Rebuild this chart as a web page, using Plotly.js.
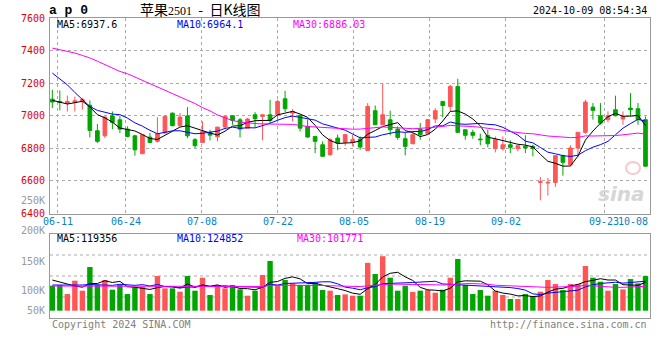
<!DOCTYPE html>
<html><head><meta charset="utf-8">
<script src="https://cdn.plot.ly/plotly-3.0.1.min.js"></script>
<style>html,body{margin:0;padding:0;background:#fff;} #chart{width:660px;height:360px;}</style>
</head><body><div id="chart"></div>
<script>
// ---- data ----
const dates = ['2024-06-07','2024-06-11','2024-06-12','2024-06-13','2024-06-14','2024-06-17','2024-06-18','2024-06-19','2024-06-20','2024-06-21',
'2024-06-24','2024-06-25','2024-06-26','2024-06-27','2024-06-28','2024-07-01','2024-07-02','2024-07-03','2024-07-04','2024-07-05',
'2024-07-08','2024-07-09','2024-07-10','2024-07-11','2024-07-12','2024-07-15','2024-07-16','2024-07-17','2024-07-18','2024-07-19',
'2024-07-22','2024-07-23','2024-07-24','2024-07-25','2024-07-26','2024-07-29','2024-07-30','2024-07-31','2024-08-01','2024-08-02',
'2024-08-05','2024-08-06','2024-08-07','2024-08-08','2024-08-09','2024-08-12','2024-08-13','2024-08-14','2024-08-15','2024-08-16',
'2024-08-19','2024-08-20','2024-08-21','2024-08-22','2024-08-23','2024-08-26','2024-08-27','2024-08-28','2024-08-29','2024-08-30',
'2024-09-02','2024-09-03','2024-09-04','2024-09-05','2024-09-06','2024-09-09','2024-09-10','2024-09-11','2024-09-12','2024-09-13',
'2024-09-18','2024-09-19','2024-09-20','2024-09-23','2024-09-24','2024-09-25','2024-09-26','2024-09-27','2024-09-30','2024-10-08'];

const openP  = [7102,7088,7076,7082,7086,7065,6908,6877,6999,6975, 6918,6877,6767,6869,6843,6894,7016,6939,6999,6853,
                6836,6898,6871,6931,7000,6975,6924,7006,6996,7006, 7006,7104,7016,7002,6935,6873,6822,6761,6863,6837,
                6837,6857,6786,7031,6945,6975,6918,6859,6828,6918, 6890,6980,7088,7057,7180,6914,6898,6857,6878,6798,
                6798,6822,6798,6812,6812,6591,6587,6591,6755,6700, 6802,6898,7053,7000,6976,7037,6980,7047,7043,6976];
const highP  = [7159,7155,7124,7118,7108,7094,6949,6996,7026,6999, 6935,6883,6883,6894,6992,7000,7020,7016,7053,6863,
                6965,6914,6933,6996,7000,6986,6986,7022,7006,7098, 7098,7153,7041,7006,6976,6873,6843,6863,6884,6884,
                6884,6873,7078,7063,7200,7031,6935,6894,6894,6955, 6980,7047,7088,7190,7227,6914,6914,6890,6914,6873,
                6873,6849,6816,6880,6822,6624,6618,6755,6761,6820, 6898,7098,7078,7078,7027,7123,7027,7139,7078,6996];
const lowP   = [7047,7033,7026,7026,7037,6867,6832,6863,6918,6894, 6867,6755,6767,6832,6836,6894,6935,6935,6863,6802,
                6832,6849,6843,6924,6945,6867,6924,6929,6849,6955, 6975,7022,6965,6904,6865,6771,6747,6755,6788,6816,
                6812,6792,6786,6945,6945,6880,6853,6757,6828,6853, 6890,6955,6990,7027,6898,6853,6859,6818,6806,6775,
                6786,6771,6781,6771,6751,6481,6510,6563,6632,6690, 6747,6890,6976,6945,6959,6996,6945,6996,6945,6690];
const closeP = [7084,7082,7088,7092,7100,6910,6843,6992,6959,6918, 6873,6791,6883,6836,6890,6996,6939,6992,6877,6816,
                6904,6881,6930,6996,6971,6918,6980,6982,7006,6971, 7088,7043,7026,6924,6869,6843,6751,6853,6832,6884,
                6853,6808,7057,6945,7006,6914,6867,6812,6884,6884, 6976,7031,7063,7180,6898,6880,6880,6853,6828,6853,
                6822,6806,6816,6802,6798,6595,6591,6755,6714,6802, 6898,7084,7033,6955,7000,7000,6996,7037,6976,6690];
const volume = [105800,108600,70500,126900,84600,184700,108600,129700,88800,108600,
                70500,98700,101500,70500,146600,94500,94500,80400,146600,84600,
                139600,66300,108600,94500,108600,90200,63500,84600,150900,210100,
                108600,129700,115600,108600,108600,118400,87400,84600,66300,69100,
                63500,63500,202400,155100,230500,139600,84600,105800,79000,84600,
                87400,76100,88800,139600,218600,108600,70500,87400,63500,84600,
                66300,49400,49400,70500,62000,80400,129700,112800,87400,112800,
                112800,188900,139600,122700,84600,112800,90200,133900,115600,146600];

// moving-average values before enough days are on screen
const ma5Head  = [7095,7085,7072,7080];
const ma10Head = [7262,7225,7190,7143,7098,7057,7033,7020,7010];
const ma30Head = [7415,7405,7395,7385,7370,7355,7335,7315,7290,7272,7258,7238,7220,7200,7180,7160,7138,7115,7098,7075,7050,7030,7005,6985,6970,6962,6955,6952,6950];
const vma5Head  = [129700,119900,112800,104300];
const vma10Head = [108600,108600,107000,107000,108600,111000,110000,108600,107000];
const vma30Head = [104300,104300,104300,104300,104300,104300,104300,104300,104300,104300,104300,104300,104300,104300,104300,
                   104300,104300,104300,104300,104300,104300,103500,103500,103500,103500,103000,102500,102500,102500];

const tickDates  = ['2024-06-11','2024-06-24','2024-07-08','2024-07-22','2024-08-05','2024-08-19','2024-09-02','2024-09-23','2024-10-08'];
const tickLabels = ['06-11','06-24','07-08','07-22','08-05','08-19','09-02','09-23','10-08'];
const priceTicks = [6400,6600,6800,7000,7200,7400,7600];
const volTickLabels = ['250K','200K','150K','100K','50K'];
const priceLegend = ['MA5:6937.6','MA10:6964.1','MA30:6886.03'];
const volLegend   = ['MA5:119356','MA10:124852','MA30:101771'];
const symbolText = 'a\u00a0p\u00a00';
const titleText = '苹果<span style="font-family:Liberation Serif;font-size:12px">2501</span>\u00a0\u00a0-\u00a0\u00a0日K线图';
const stampText = '2024-10-09 08:54:34';
const copyText = 'Copyright 2024 SINA.COM';
const urlText = 'http://finance.sina.com.cn';

// ---- helpers ----
function movingAvg(values, n, head){
  return values.map((v,i)=> i < n-1 ? head[i] : values.slice(i-n+1,i+1).reduce((a,b)=>a+b,0)/n);
}
const RED='#ff5555', GREEN='#00a600', MONO='DejaVu Sans Mono';
const maColors=['#000000','#0000ff','#ff00ff'];
const W=600, H=300, L=50, T=18;
const px = x => (x-L)/W;            // page pixel -> paper x
const py = y => (T+H-y)/H;          // page pixel -> paper y

const volColors = closeP.map((c,i)=> c>=openP[i] ? RED : GREEN);

const traces = [
  {type:'candlestick', x:dates, open:openP, high:highP, low:lowP, close:closeP, xaxis:'x', yaxis:'y',
   increasing:{line:{color:RED,width:1}, fillcolor:RED}, decreasing:{line:{color:GREEN,width:1}, fillcolor:GREEN},
   whiskerwidth:0, hoverinfo:'skip', showlegend:false},
  {type:'scatter', mode:'lines', x:dates, y:movingAvg(closeP,5,ma5Head), xaxis:'x', yaxis:'y', line:{color:maColors[0],width:1}, hoverinfo:'skip'},
  {type:'scatter', mode:'lines', x:dates, y:movingAvg(closeP,10,ma10Head), xaxis:'x', yaxis:'y', line:{color:maColors[1],width:1}, hoverinfo:'skip'},
  {type:'scatter', mode:'lines', x:dates, y:movingAvg(closeP,30,ma30Head), xaxis:'x', yaxis:'y', line:{color:maColors[2],width:1}, hoverinfo:'skip'},
  {type:'bar', x:dates, y:volume, xaxis:'x3', yaxis:'y3', marker:{color:volColors, line:{width:0}}, hoverinfo:'skip'},
  {type:'scatter', mode:'lines', x:dates, y:movingAvg(volume,5,vma5Head), xaxis:'x3', yaxis:'y3', line:{color:maColors[0],width:1}, hoverinfo:'skip'},
  {type:'scatter', mode:'lines', x:dates, y:movingAvg(volume,10,vma10Head), xaxis:'x3', yaxis:'y3', line:{color:maColors[1],width:1}, hoverinfo:'skip'},
  {type:'scatter', mode:'lines', x:dates, y:movingAvg(volume,30,vma30Head), xaxis:'x3', yaxis:'y3', line:{color:maColors[2],width:1}, hoverinfo:'skip'}
];

const tickIdx = tickDates.map(d=>dates.indexOf(d));
const candleRange = [-0.31, 79.6];
const gridRange = [0, dates.length-1];
const frame = {showline:true, mirror:true, linecolor:'#999', linewidth:1, zeroline:false, fixedrange:true};

const ann = [];
const txt = (text,x,y,xa,color,size,family,extra) => ann.push(Object.assign({text, x, y, xref:'paper', yref:'paper', xanchor:xa, yanchor:'middle', showarrow:false,
  font:{family:family||MONO, size:size||10, color:color||'#000'}}, extra||{}));

txt(symbolText, px(47), py(10), 'left', '#000', 13, 'Liberation Mono', {font:{family:'Liberation Mono',size:13,color:'#000',weight:'bold'}});
txt(titleText, px(200), py(9), 'center', '#000', 14, 'Noto Sans CJK SC');
txt(stampText, px(649), py(11), 'right', '#000', 10);
const legX = [55,175,291], vlegX=[55,175,295];
priceLegend.forEach((t,i)=>txt(t, px(legX[i]), py(24.5), 'left', maColors[i], 10));
volLegend.forEach((t,i)=>txt(t, px(vlegX[i]), py(238.5), 'left', maColors[i], 10));
const volLabY = [200.7,230.7,261,290,310];
volTickLabels.forEach((t,i)=>txt(t, px(47), py(volLabY[i]), 'right', '#999', 10));
tickLabels.forEach((t,i)=>ann.push({text:t, x:tickIdx[i], xref:'x2', y:py(222), yref:'paper',
  xanchor: i===tickLabels.length-1 ? 'right':'center', yanchor:'middle', showarrow:false,
  font:{family:MONO,size:10,color:'#0a7fc4'}}));
txt(copyText, px(50), py(324), 'left', '#808080', 10);
txt(urlText, px(649), py(324), 'right', '#808080', 10);
txt('sina', px(621), py(194), 'center', '#d8d8d8', 20, 'DejaVu Sans', {font:{family:'DejaVu Sans',size:20,color:'#d6d6d6',style:'italic',weight:'bold'}});

const shapes = [0.25,0.5,0.75].map(v=>({type:'line', xref:'paper', yref:'y3 domain', x0:0, x1:1, y0:v, y1:v,
  line:{color:'#aaa', width:1, dash:'dot'}, layer:'below'}));
// sina logo ring (watermark)
shapes.push({type:'circle', xref:'paper', yref:'paper', x0:px(626), x1:px(640), y0:py(174), y1:py(162), line:{color:'#f7caca', width:2}, layer:'below'});

const layout = {
  width:660, height:360, margin:{l:L, r:660-L-W, t:T, b:360-T-H}, paper_bgcolor:'#fff', plot_bgcolor:'#fff',
  showlegend:false, bargap:0.28, dragmode:false,
  xaxis: Object.assign({type:'category', categoryarray:dates, range:candleRange, anchor:'y', showgrid:false, showticklabels:false, ticks:'', rangeslider:{visible:false}}, frame),
  xaxis2:{overlaying:'x', anchor:'y', type:'linear', range:gridRange, tickvals:tickIdx, showticklabels:false, ticks:'', showgrid:true, gridcolor:'#aaa', griddash:'dot', gridwidth:1, zeroline:false, showline:false, fixedrange:true},
  yaxis: Object.assign({domain:[(318-213.5)/300,1], range:[priceTicks[0], priceTicks[priceTicks.length-1]], tickvals:priceTicks, ticktext:priceTicks.map(String),
          tickfont:{family:MONO,size:10,color:'#e00000'}, ticks:'', ticklabelstandoff:2, showgrid:true, gridcolor:'#aaa', griddash:'dot', gridwidth:1, anchor:'x'}, frame),
  xaxis3: Object.assign({type:'category', categoryarray:dates, range:candleRange, anchor:'y3', showgrid:false, showticklabels:false, ticks:''}, frame),
  xaxis4:{overlaying:'x3', anchor:'y3', type:'linear', range:gridRange, tickvals:tickIdx, showticklabels:false, ticks:'', showgrid:true, gridcolor:'#aaa', griddash:'dot', gridwidth:1, zeroline:false, showline:false, fixedrange:true},
  yaxis3: Object.assign({domain:[0,84/300], range:[-30900,324400], showgrid:false, showticklabels:false, ticks:'', anchor:'x3'}, frame),
  annotations: ann, shapes: shapes
};
Plotly.newPlot('chart', traces, layout, {staticPlot:true, displayModeBar:false});
</script></body></html>
